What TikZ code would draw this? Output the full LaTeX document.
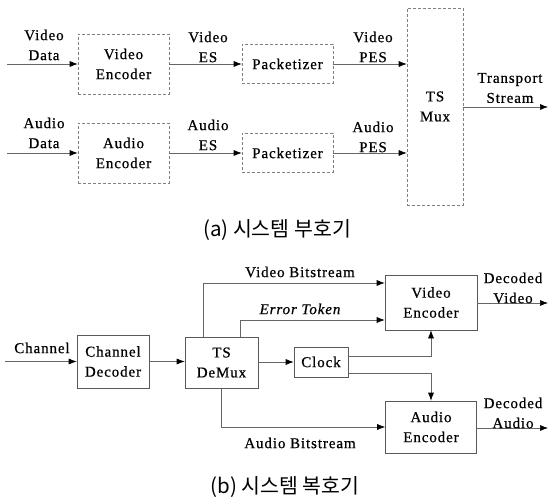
\documentclass[tikz,border=0pt]{standalone}
\usepackage{fontspec}
\setmainfont{Liberation Serif}[LetterSpace=6,FakeBold=0.6]
\newfontfamily\krfont{Noto Sans CJK KR}
\usetikzlibrary{arrows.meta}
\begin{document}
\begin{tikzpicture}[x=1pt,y=-1pt,
  lbl/.style={font=\fontsize{15}{20}\selectfont,align=center,inner sep=0pt},
  boxa/.style={draw=black!50,densely dashed,line width=0.6pt,minimum width=#1,inner sep=0pt,font=\fontsize{15}{20}\selectfont,align=center},
  boxb/.style={draw=black!65,line width=0.6pt,inner sep=0pt,font=\fontsize{15}{20}\selectfont,align=center},
  ln/.style={draw=black!60,line width=0.6pt},
  arr/.style={ln,-{Latex[length=8pt,width=6pt,color=black]}},
  captext/.style={font=\krfont\fontsize{20.5}{24}\selectfont,inner sep=0pt}]
\useasboundingbox (0,0) rectangle (551,497);
% ---------- (a) ----------
\node[boxa=91pt,minimum height=60pt] (venc) at (123.5,64) {Video\\Encoder};
\node[boxa=91pt,minimum height=60pt] (aenc) at (123.5,153) {Audio\\Encoder};
\node[boxa=91pt,minimum height=39pt] (vpkt) at (287.5,64) {Packetizer};
\node[boxa=91pt,minimum height=39pt] (apkt) at (287.5,153) {Packetizer};
\node[boxa=56pt,minimum height=197pt] (mux) at (435,106.5) {TS\\Mux};
\coordinate (vin) at (7,64);
\coordinate (ain) at (7,153);
\coordinate (tsout) at (548,107);
\draw[arr] (vin) -- (venc.west);
\draw[arr] (ain) -- (aenc.west);
\draw[arr] (venc.east) -- (vpkt.west);
\draw[arr] (aenc.east) -- (apkt.west);
\draw[arr] (vpkt.east) -- (vpkt.east -| mux.west);
\draw[arr] (apkt.east) -- (apkt.east -| mux.west);
\draw[arr] (mux.east |- tsout) -- (tsout);
\node[lbl] (lvd) at (44,45) {Video\\Data};
\node[lbl] (lad) at (44,133) {Audio\\Data};
\node[lbl] (lves) at (208,47) {Video\\ES};
\node[lbl] (laes) at (208,135) {Audio\\ES};
\node[lbl] (lvpes) at (373,47) {Video\\PES};
\node[lbl] (lapes) at (373,137) {Audio\\PES};
\node[lbl] (lts) at (510,88) {Transport\\Stream};
\node[captext] (capa) at (277,230) {(a) 시스템 부호기};
% ---------- (b) ----------
\node[boxb,minimum width=72pt,minimum height=53pt] (chdec) at (113,361.5) {Channel\\Decoder};
\node[boxb,minimum width=73pt,minimum height=51pt] (demux) at (221.5,362.5) {TS\\DeMux};
\node[boxb,minimum width=54pt,minimum height=30pt] (clock) at (321,362) {Clock};
\node[boxb,minimum width=92pt,minimum height=55pt] (vdec) at (431,302.5) {Video\\Encoder};
\node[boxb,minimum width=91pt,minimum height=52pt] (adec) at (431,427) {Audio\\Encoder};
\coordinate (chin) at (5,361.5);
\coordinate (vout) at (548,303);
\coordinate (aout) at (548,428);
\draw[arr] (chin) -- (chdec.west);
\draw[arr] (chdec.east) -- (chdec.east -| demux.west);
\draw[arr] (demux.east |- clock.west) -- (clock.west);
\draw[arr] ([xshift=-18.5pt]demux.north) |- ([yshift=19.5pt]vdec.west);
\draw[arr] ([xshift=18.5pt]demux.north) |- ([yshift=-17.5pt]vdec.west);
\draw[arr] ([yshift=6pt]clock.east) -| (vdec.south);
\draw[arr] ([yshift=-11pt]clock.east) -| (adec.north);
\draw[arr] (demux.south) |- (adec.west);
\draw[arr] (vdec.east |- vout) -- (vout);
\draw[arr] (adec.east |- aout) -- (aout);
\node[lbl] (lch) at (42,348) {Channel};
\node[lbl] (lvb) at (300,272) {Video Bitstream};
\node[lbl] (let) at (300,309) {\itshape Error Token};
\node[lbl] (lab) at (300,443) {Audio Bitstream};
\node[lbl] (ldv) at (513,288) {Decoded\\Video};
\node[lbl] (lda) at (513,413) {Decoded\\Audio};
\node[captext] (capb) at (285,487) {(b) 시스템 복호기};
\end{tikzpicture}
\end{document}
